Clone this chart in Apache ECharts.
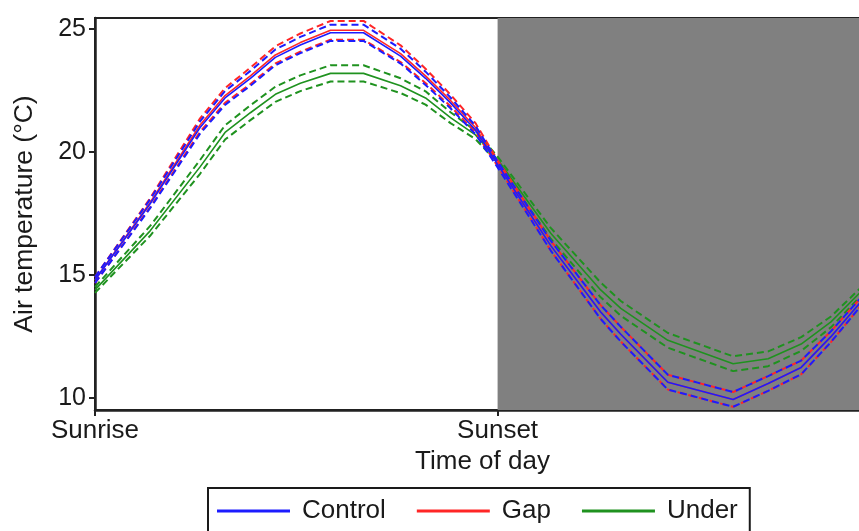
<!DOCTYPE html>
<html>
<head>
<meta charset="utf-8">
<script src="https://cdn.jsdelivr.net/npm/echarts@6/dist/echarts.min.js"></script>
<style>
  html, body { margin: 0; padding: 0; background: #ffffff; }
  #chart { width: 859px; height: 531px; }
</style>
</head>
<body>
<div id="chart"></div>
<script>
// Time of day, as a fraction of the sunrise-to-sunset span (0 = sunrise, 1 = sunset)
const times = [0, 0.137, 0.261, 0.323, 0.386, 0.448, 0.51, 0.585, 0.667, 0.759, 0.821, 0.883, 0.945, 1.0,
               1.132, 1.256, 1.306, 1.423, 1.585, 1.672, 1.754, 1.828, 1.925];

// Mean air temperature (°C) per treatment
const controlMean = [14.8, 17.9, 21.0, 22.2, 23.0, 23.85, 24.35, 24.85, 24.85, 23.9, 23.0, 22.0, 20.9, 19.5,
                     16.2, 13.5, 12.6, 10.65, 9.95, 10.6, 11.25, 12.5, 14.35];
const gapMean     = [14.8, 17.95, 21.1, 22.3, 23.1, 23.95, 24.45, 24.95, 24.95, 24.0, 23.1, 22.1, 21.0, 19.55,
                     16.2, 13.5, 12.6, 10.65, 9.95, 10.6, 11.25, 12.5, 14.35];
const underMean   = [14.4, 16.8, 19.4, 20.8, 21.6, 22.35, 22.8, 23.2, 23.2, 22.7, 22.2, 21.4, 20.7, 19.7,
                     16.7, 14.4, 13.65, 12.35, 11.4, 11.6, 12.2, 13.1, 14.7];

// Half-width of the confidence band (°C)
const controlCI = [0.12, 0.18, 0.25, 0.28, 0.3, 0.32, 0.33, 0.33, 0.33, 0.3, 0.27, 0.22, 0.17, 0.12,
                   0.2, 0.28, 0.3, 0.3, 0.3, 0.3, 0.28, 0.22, 0.15];
const gapCI     = [0.12, 0.18, 0.27, 0.3, 0.33, 0.35, 0.37, 0.38, 0.38, 0.34, 0.29, 0.24, 0.18, 0.12,
                   0.2, 0.28, 0.3, 0.3, 0.3, 0.3, 0.28, 0.22, 0.15];
const underCI   = [0.12, 0.2, 0.28, 0.29, 0.3, 0.31, 0.32, 0.33, 0.33, 0.3, 0.27, 0.22, 0.17, 0.12,
                   0.22, 0.3, 0.3, 0.3, 0.3, 0.3, 0.28, 0.22, 0.15];

const yTicks = [10, 15, 20, 25];
const xTicks = [0, 1];
const xTickLabels = ['Sunrise', 'Sunset'];
const nightStart = 1;
const nightEnd = 2;

const groups = [
  { name: 'Under',   color: '#1f921f', mean: underMean,   ci: underCI },
  { name: 'Gap',     color: '#ff2626', mean: gapMean,     ci: gapCI },
  { name: 'Control', color: '#1c1cff', mean: controlMean, ci: controlCI }
];

const pairs = (vals) => times.map((t, i) => [t, vals[i]]);

const series = [];
groups.forEach((g, gi) => {
  const upper = g.mean.map((v, i) => v + g.ci[i]);
  const lower = g.mean.map((v, i) => v - g.ci[i]);
  const mean = {
    name: g.name,
    type: 'line',
    data: pairs(g.mean),
    symbol: 'none',
    color: g.color,
    lineStyle: { color: g.color, width: 1.6 },
    z: 3 + gi,
    silent: true
  };
  if (gi === 0) {
    // shaded night period
    mean.markArea = {
      silent: true,
      itemStyle: { color: '#808080' },
      data: [[{ xAxis: nightStart }, { xAxis: nightEnd }]]
    };
  }
  series.push(mean);
  [upper, lower].forEach((vals, k) => {
    series.push({
      name: g.name + (k === 0 ? ' upper' : ' lower'),
      type: 'line',
      data: pairs(vals),
      symbol: 'none',
      color: g.color,
      lineStyle: { color: g.color, width: 2, type: [7, 4] },
      z: 3 + gi,
      silent: true
    });
  });
});

const textColor = '#1a1a1a';
const font = 'Liberation Sans, Arial, Helvetica, sans-serif';

const chart = echarts.init(document.getElementById('chart'), null, { renderer: 'canvas' });
chart.setOption({
  animation: false,
  backgroundColor: '#ffffff',
  textStyle: { fontFamily: font, color: textColor },
  grid: {
    left: 95, top: 18, width: 775, height: 392,
    outerBoundsMode: 'none',
    containLabel: false,
    show: true, backgroundColor: '#ffffff', borderColor: '#222222', borderWidth: 2
  },
  legend: {
    data: ['Control', 'Gap', 'Under'].map((n) => ({ name: n, icon: 'rect' })),
    left: 208, top: 488,
    orient: 'horizontal',
    itemWidth: 73, itemHeight: 3, itemGap: 31,
    padding: [10, 12, 12, 9],
    borderColor: '#1a1a1a', borderWidth: 2,
    textStyle: { fontSize: 26, color: textColor, fontFamily: font, padding: [0, 0, 0, 7] }
  },
  xAxis: {
    type: 'value',
    min: 0, max: 1.925,
    name: 'Time of day',
    nameLocation: 'middle',
    nameGap: 37,
    nameTextStyle: { fontSize: 26, color: textColor },
    splitLine: { show: false },
    axisLine: { show: true, lineStyle: { color: '#222222', width: 2.5 } },
    axisTick: { show: true, length: 6, lineStyle: { color: '#222222', width: 2 }, customValues: xTicks },
    axisLabel: {
      fontSize: 26, color: textColor, margin: 8,
      customValues: xTicks,
      formatter: (v) => { const i = xTicks.indexOf(v); return i >= 0 ? xTickLabels[i] : ''; }
    }
  },
  yAxis: {
    type: 'value',
    min: 9.52, max: 25.45,
    name: 'Air temperature (°C)',
    nameLocation: 'middle',
    nameGap: 57,
    nameTextStyle: { fontSize: 26.5, color: textColor },
    splitLine: { show: false },
    axisLine: { show: true, lineStyle: { color: '#222222', width: 2.5 } },
    axisTick: { show: true, length: 6, lineStyle: { color: '#222222', width: 2 }, customValues: yTicks },
    axisLabel: { fontSize: 25, color: textColor, margin: 9, customValues: yTicks }
  },
  series: series
});
</script>
</body>
</html>
